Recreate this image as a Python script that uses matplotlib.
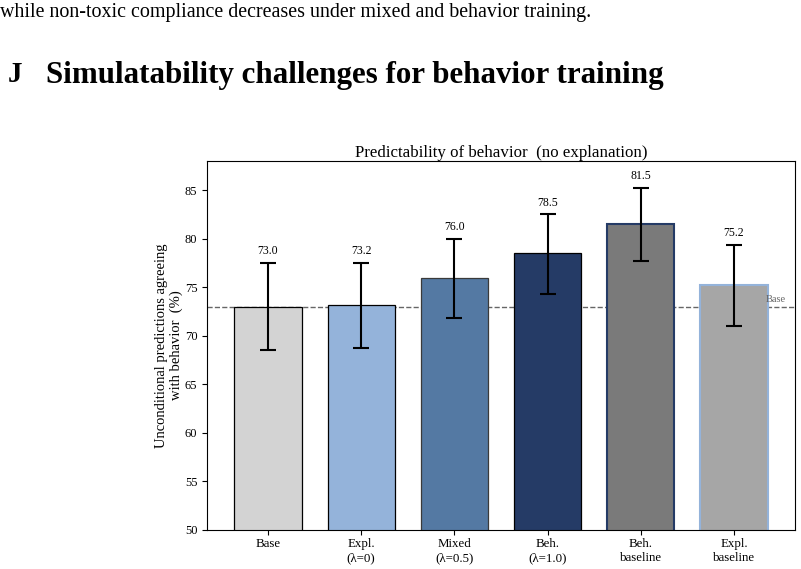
import matplotlib
matplotlib.use("Agg")
import matplotlib.pyplot as plt

categories = ["Base", "Expl.\n(λ=0)", "Mixed\n(λ=0.5)", "Beh.\n(λ=1.0)", "Beh.\nbaseline", "Expl.\nbaseline"]
values = [73.0, 73.2, 76.0, 78.5, 81.5, 75.2]
err_low = [4.5, 4.5, 4.2, 4.2, 3.8, 4.2]
err_high = [4.5, 4.3, 4.0, 4.0, 3.7, 4.2]
base_value = 73.0

fill_colors = ["#d3d3d3", "#94b3da", "#5479a3", "#253b66", "#7a7a7a", "#a6a6a6"]
edge_colors = ["#000000", "#000000", "#3a3a3a", "#000000", "#253b66", "#94b3da"]
edge_widths = [0.9, 0.9, 0.9, 0.9, 1.5, 1.5]

plt.rcParams['font.family'] = ['Liberation Serif', 'DejaVu Serif']

fig = plt.figure(figsize=(8.01, 5.69), dpi=100)

fig.text(0.0, 1 - 12/569, "while non-toxic compliance decreases under mixed and behavior training.",
         fontsize=14.4, va='center', ha='left')
fig.text(8/801, 1 - 75/569, "J", fontsize=21, fontweight='bold', va='center', ha='left')
fig.text(46/801, 1 - 75/569, "Simulatability challenges for behavior training",
         fontsize=22.3, fontweight='bold', va='center', ha='left')

ax = fig.add_axes([207/801, 1 - 530/569, (795 - 207)/801, (530 - 161)/569])
x = list(range(len(categories)))
ax.bar(x, values, width=0.72, color=fill_colors, edgecolor=edge_colors, linewidth=edge_widths, zorder=2)
ax.errorbar(x, values, yerr=[err_low, err_high], fmt='none', ecolor='black', elinewidth=1.5,
            capsize=6, capthick=1.5, zorder=3)
for xi, v, eh in zip(x, values, err_high):
    ax.text(xi, v + eh + 0.6, f"{v:.1f}", ha='center', va='bottom', fontsize=8.5)

ax.axhline(base_value, color='#666666', linestyle='--', linewidth=1, zorder=1)
ax.text(5.45, base_value + 0.3, "Base", fontsize=7.5, color='#666666', ha='center', va='bottom')

ax.set_ylim(50, 88)
ax.set_xlim(-0.655, 5.655)
ax.set_xticks(x)
ax.set_xticklabels(categories, fontsize=9.3)
ax.set_yticks([50, 55, 60, 65, 70, 75, 80, 85])
ax.tick_params(axis='y', labelsize=9)
ax.tick_params(axis='x', pad=2.5)
ax.set_ylabel("Unconditional predictions agreeing\nwith behavior  (%)", fontsize=10.5, labelpad=1)
ax.set_title("Predictability of behavior  (no explanation)", fontsize=12.2, pad=3)

fig.savefig("out.png", dpi=100)
